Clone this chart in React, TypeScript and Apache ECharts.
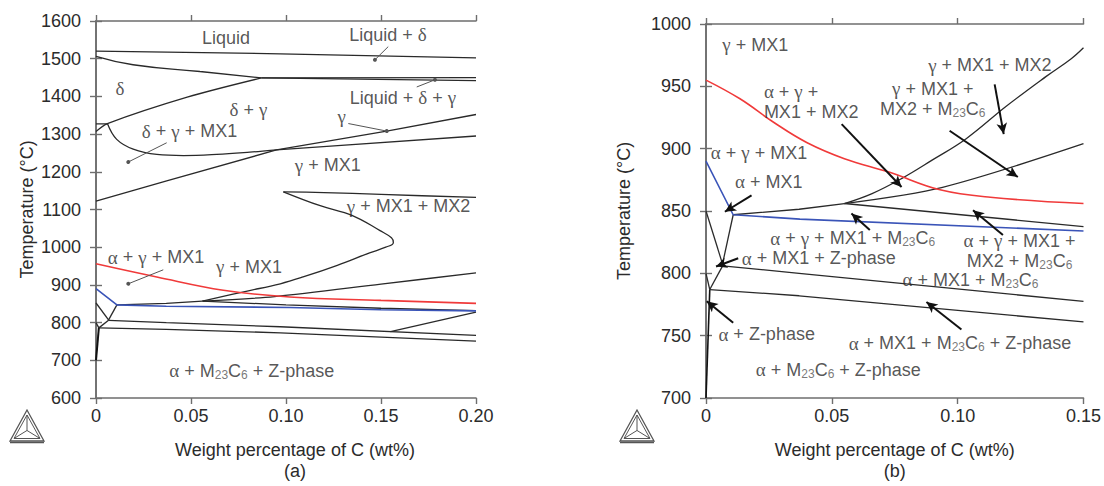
import React, { useEffect, useRef } from "react";
import * as echarts from "echarts";

// ---------- Panel (a): 0–0.20 wt% C, 600–1600 °C ----------
const aLiquidus = [[0, 1520], [0.097, 1513], [0.2, 1502]];
const aDeltaSolidus = [[0, 1506], [0.0195, 1484], [0.0547, 1466], [0.087, 1449]];
const aPeritecticUpper = [[0.087, 1449], [0.2, 1450]];
const aPeritecticLower = [[0.087, 1449], [0.2, 1442]];
const aDeltaGamma = [[0, 1307], [0.006, 1328], [0.048, 1398], [0.087, 1449]];
const aMx1Step = [[0, 1327], [0.006, 1327]];
const aDeltaGammaMx1 = [[0.006, 1328], [0.0109, 1286], [0.0196, 1260], [0.032, 1246], [0.046, 1243], [0.0635, 1246], [0.081, 1252], [0.095, 1258], [0.2, 1295]];
const aMx1Solvus = [[0, 1122], [0.0372, 1176], [0.095, 1258], [0.153, 1308], [0.2, 1352]];
const aMx2Loop = [[0.056, 857], [0.079, 883], [0.097, 903], [0.109, 921], [0.127, 952], [0.144, 985], [0.1525, 1000], [0.1565, 1012], [0.1555, 1025], [0.1495, 1044], [0.135, 1084], [0.118, 1110], [0.0986, 1147]];
const aMx2Top = [[0.0986, 1147], [0.12, 1145], [0.15, 1140], [0.2, 1132]];
const aRed = [[0, 956], [0.032, 921], [0.067, 886], [0.102, 868], [0.15, 859], [0.2, 851]];
const aBlue = [[0, 890], [0.011, 847], [0.037, 843.5], [0.102, 840], [0.15, 834], [0.2, 831]];
const aCornerA = [[0, 852], [0.0068, 806]];
const aCornerB = [[0.011, 847], [0.0065, 806]];
const aCornerC = [[0, 800], [0.0015, 786]];
const aCornerD = [[0.0066, 806], [0.0015, 786]];
const aAlphaZ = [[0, 700], [0.0015, 786]];
const aMx1Line = [[0.011, 847], [0.037, 851], [0.056, 857]];
const aM23Upper = [[0.056, 857], [0.094, 869], [0.15, 902], [0.2, 932]];
const aM23Lower = [[0.056, 857], [0.1, 847], [0.15, 838], [0.2, 832]];
const aZUpper = [[0.0066, 806], [0.037, 800], [0.097, 789], [0.2, 766]];
const aZLower = [[0.0015, 786], [0.037, 782], [0.097, 773], [0.2, 751]];
const aShort = [[0.155, 776], [0.2, 828]];

const aLabels = [
  { t: "Liquid", x: 0.0684, y: 1555 },
  { t: "Liquid + {g|δ}", x: 0.1537, y: 1563 },
  { t: "Liquid + {g|δ} + {g|γ}", x: 0.1615, y: 1396 },
  { t: "{g|γ}", x: 0.1293, y: 1348 },
  { t: "{g|δ}", x: 0.0126, y: 1422 },
  { t: "{g|δ} + {g|γ}", x: 0.0802, y: 1365 },
  { t: "{g|δ} + {g|γ} + MX1", x: 0.0492, y: 1308 },
  { t: "{g|γ} + MX1", x: 0.122, y: 1217 },
  { t: "{g|γ} + MX1 + MX2", x: 0.1645, y: 1108 },
  { t: "{g|α} + {g|γ} + MX1", x: 0.0316, y: 974 },
  { t: "{g|γ} + MX1", x: 0.0805, y: 948 },
  { t: "{g|α} + M{s|23}C{s|6} + Z-phase", x: 0.082, y: 672 },
];
const aArrows = [
  [[0.1538, 1532], [0.1468, 1497]],
  [[0.1688, 1425], [0.1784, 1444]],
  [[0.1328, 1328], [0.153, 1308]],
  [[0.0372, 1277], [0.017, 1226]],
  [[0.0354, 940], [0.017, 903]],
];

// ---------- Panel (b): 0–0.15 wt% C, 700–1000 °C ----------
const bRed = [[0, 955], [0.0135, 940], [0.027, 921], [0.04, 905], [0.055, 892], [0.073, 881], [0.093, 867], [0.113, 861], [0.15, 856]];
const bBlue = [[0, 890], [0.0108, 847], [0.0373, 843.5], [0.15, 834]];
const bCornerA = [[0, 850], [0.0068, 806]];
const bCornerB = [[0.0108, 847], [0.0064, 806]];
const bCornerC = [[0, 800], [0.0015, 787]];
const bCornerD = [[0.0066, 806], [0.0015, 787]];
const bAlphaZ = [[0, 700], [0.0015, 787]];
const bMx1Line = [[0.0108, 847], [0.037, 851.4], [0.055, 856]];
const bMx2Curve = [[0.055, 856], [0.066, 864], [0.0777, 876], [0.09, 891], [0.1034, 908], [0.1193, 934], [0.1352, 958], [0.145, 972], [0.15, 981]];
const bM23Upper = [[0.055, 856], [0.094, 869], [0.15, 904]];
const bM23Lower = [[0.055, 856], [0.15, 837.5]];
const bZUpper = [[0.0066, 806], [0.037, 800], [0.15, 777.5]];
const bZLower = [[0.0015, 787], [0.037, 782], [0.15, 761]];

const bLabels = [
  { t: "{g|γ} + MX1", x: 0.0196, y: 983.5 },
  { t: "{g|α} + {g|γ} +\nMX1 + MX2", x: 0.023, y: 937.6, align: "left" },
  { t: "{g|γ} + MX1 + MX2", x: 0.1128, y: 967 },
  { t: "{g|γ} + MX1 +\nMX2 + M{s|23}C{s|6}", x: 0.0901, y: 940 },
  { t: "{g|α} + {g|γ} + MX1", x: 0.0019, y: 896.6, align: "left" },
  { t: "{g|α} + MX1", x: 0.0249, y: 873.3 },
  { t: "{g|α} + {g|γ} + MX1 + M{s|23}C{s|6}", x: 0.0583, y: 828.3 },
  { t: "{g|α} + MX1 + Z-phase", x: 0.0448, y: 812 },
  { t: "{g|α} + {g|γ} + MX1 +\nMX2 + M{s|23}C{s|6}", x: 0.1246, y: 818.3 },
  { t: "{g|α} + MX1 + M{s|23}C{s|6}", x: 0.1051, y: 795 },
  { t: "{g|α} + Z-phase", x: 0.0241, y: 751 },
  { t: "{g|α} + MX1 + M{s|23}C{s|6} + Z-phase", x: 0.1009, y: 744 },
  { t: "{g|α} + M{s|23}C{s|6} + Z-phase", x: 0.0526, y: 722.5 },
];
const bArrows = [
  [[0.0539, 919.7], [0.0777, 869.3]],
  [[0.1147, 951.6], [0.1183, 911.7]],
  [[0.0968, 914.4], [0.1239, 877.3]],
  [[0.0181, 862.6], [0.0075, 849.4]],
  [[0.0128, 812.1], [0.004, 805.5]],
  [[0.0651, 834.7], [0.0578, 848]],
  [[0.118, 830.7], [0.1061, 850.6]],
  [[0.0108, 760.3], [0.0003, 777.6]],
  [[0.1015, 755], [0.0876, 777]],
];

const SANS = "Liberation Sans, Arial, sans-serif";
const SERIF = "Liberation Serif, Times New Roman, serif";
const TXT = "#2b2b2b";
const AX = "#6e6e6e";
const BLACK = "#2a2a2a";
const RED = "#f03a3a";
const BLUE = "#3a54b8";

const rich = {
  g: { fontFamily: SERIF, fontSize: 19, color: TXT, lineHeight: 18 },
  s: { fontFamily: SANS, fontSize: 12, color: "#555", verticalAlign: "bottom", lineHeight: 6 },
};

function xFmt(v: number) {
  return v === 0 ? "0" : v.toFixed(2);
}
function yFmt(v: number) {
  return String(Math.round(v));
}

function axisPair(grid: number, min: number, max: number, interval: number, isX: boolean, name: string, nameGap: number, extra: any) {
  const common = {
    gridIndex: grid,
    type: "value",
    min,
    max,
    interval,
    splitLine: { show: false },
    axisLine: { show: true, lineStyle: { color: AX, width: 1.6 } },
    axisTick: { show: true, length: 6, lineStyle: { color: AX, width: 1.4 } },
  };
  const main = {
    ...common,
    position: isX ? "bottom" : "left",
    axisLabel: {
      color: TXT,
      fontFamily: SANS,
      fontSize: 18,
      margin: isX ? 9 : 15,
      formatter: isX ? xFmt : yFmt,
    },
    name,
    nameLocation: "middle",
    nameGap,
    nameRotate: isX ? 0 : 90,
    nameTextStyle: { color: TXT, fontFamily: SANS, fontSize: 18, lineHeight: 21, ...extra },
  };
  const mirror = { ...common, position: isX ? "top" : "right", axisLabel: { show: false } };
  return [main, mirror];
}

function ln(data: number[][], xi: number, yi: number, color = BLACK, width = 1.3, smooth: any = false) {
  return {
    type: "line",
    data,
    xAxisIndex: xi,
    yAxisIndex: yi,
    symbol: "none",
    smooth,
    lineStyle: { color, width },
    silent: true,
    z: 3,
  };
}

function labelSeries(labels: any[], xi: number, yi: number) {
  return {
    type: "scatter",
    xAxisIndex: xi,
    yAxisIndex: yi,
    symbolSize: 0,
    silent: true,
    z: 10,
    data: labels.map((l) => ({
      value: [l.x, l.y],
      label: { formatter: l.t, align: l.align || "center" },
    })),
    label: {
      show: true,
      position: "inside",
      color: TXT,
      fontFamily: SANS,
      fontSize: 18,
      lineHeight: 20,
      rich,
    },
  };
}

function arrowSeries(arrows: number[][][], xi: number, yi: number, heavy: boolean) {
  return {
    type: "line",
    data: [],
    xAxisIndex: xi,
    yAxisIndex: yi,
    silent: true,
    markLine: {
      silent: true,
      symbol: heavy ? ["none", "arrow"] : ["none", "circle"],
      symbolSize: heavy ? [8, 11] : 4,
      label: { show: false },
      lineStyle: { type: "solid", color: heavy ? "#111" : "#555", width: heavy ? 2 : 1 },
      data: arrows.map((a) => [{ coord: a[0] }, { coord: a[1] }]),
    },
  };
}

function logo(x: number, y: number) {
  const s = 34;
  const h = 31;
  const A = [x, y + h], B = [x + s, y + h], C = [x + s / 2, y];
  const cx = x + s / 2, cy = y + h * 0.66;
  const st = { stroke: "#555", lineWidth: 1.3, fill: "none" };
  return {
    type: "group",
    children: [
      { type: "polygon", shape: { points: [A, B, C] }, style: st },
      { type: "polygon", shape: { points: [[x + 4, y + h - 2.5], [x + s - 4, y + h - 2.5], [x + s / 2, y + 5]] }, style: { ...st, lineWidth: 1 } },
      { type: "polyline", shape: { points: [[x + 4, y + h - 2.5], [cx, cy], [x + s - 4, y + h - 2.5]] }, style: { ...st, lineWidth: 1 } },
      { type: "line", shape: { x1: cx, y1: cy, x2: cx, y2: y + 5 }, style: { ...st, lineWidth: 1 } },
      { type: "line", shape: { x1: x, y1: y + h + 1.5, x2: x + s, y2: y + h + 1.5 }, style: { ...st, lineWidth: 1.5 } },
    ],
  };
}

export default function App() {
  const ref = useRef<HTMLDivElement>(null);
  useEffect(() => {
    if (!ref.current) return;
    const chart = echarts.init(ref.current, null, { renderer: "svg" });
    const [xa, xa2] = axisPair(0, 0, 0.2, 0.05, true, "Weight percentage of C (wt%)\n(a)", 41, { padding: [0, 0, 0, 18] });
    const [ya, ya2] = axisPair(0, 600, 1600, 100, false, "Temperature (°C)", 57, {});
    const [xb, xb2] = axisPair(1, 0, 0.15, 0.05, true, "Weight percentage of C (wt%)\n(b)", 41, {});
    const [yb, yb2] = axisPair(1, 700, 1000, 50, false, "Temperature (°C)", 72, {});
    chart.setOption({
      animation: false,
      backgroundColor: "#ffffff",
      grid: [
        { left: 96, top: 21, width: 380, height: 379 },
        { left: 706, top: 24, width: 378, height: 377 },
      ],
      xAxis: [xa, xa2, xb, xb2],
      yAxis: [ya, ya2, yb, yb2],
      graphic: [logo(10, 410), logo(620, 410)],
      series: [
        ln(aLiquidus, 0, 0, BLACK, 1.3, true),
        ln(aDeltaSolidus, 0, 0, BLACK, 1.3, true),
        ln(aPeritecticUpper, 0, 0),
        ln(aPeritecticLower, 0, 0),
        ln(aDeltaGamma, 0, 0, BLACK, 1.3, 0.3),
        ln(aMx1Step, 0, 0),
        ln(aDeltaGammaMx1, 0, 0, BLACK, 1.3, 0.4),
        ln(aMx1Solvus, 0, 0),
        ln(aMx2Loop, 0, 0, BLACK, 1.3, 0.4),
        ln(aMx2Top, 0, 0, BLACK, 1.3, 0.3),
        ln(aCornerA, 0, 0),
        ln(aCornerB, 0, 0),
        ln(aCornerC, 0, 0),
        ln(aCornerD, 0, 0),
        ln(aAlphaZ, 0, 0, "#111", 2),
        ln(aMx1Line, 0, 0),
        ln(aM23Upper, 0, 0, BLACK, 1.3, 0.3),
        ln(aM23Lower, 0, 0),
        ln(aZUpper, 0, 0),
        ln(aZLower, 0, 0),
        ln(aShort, 0, 0),
        ln(aRed, 0, 0, RED, 1.6, 0.4),
        ln(aBlue, 0, 0, BLUE, 1.6),
        arrowSeries(aArrows, 0, 0, false),
        labelSeries(aLabels, 0, 0),

        ln(bCornerA, 2, 2),
        ln(bCornerB, 2, 2),
        ln(bCornerC, 2, 2),
        ln(bCornerD, 2, 2),
        ln(bAlphaZ, 2, 2, "#111", 1.6),
        ln(bMx1Line, 2, 2),
        ln(bMx2Curve, 2, 2, BLACK, 1.3, 0.4),
        ln(bM23Upper, 2, 2, BLACK, 1.3, 0.3),
        ln(bM23Lower, 2, 2),
        ln(bZUpper, 2, 2),
        ln(bZLower, 2, 2),
        ln(bRed, 2, 2, RED, 1.6, 0.4),
        ln(bBlue, 2, 2, BLUE, 1.6),
        arrowSeries(bArrows, 2, 2, true),
        labelSeries(bLabels, 2, 2),
      ],
    });
    return () => chart.dispose();
  }, []);
  return <div ref={ref} style={{ position: "fixed", left: 0, top: 0, width: 1104, height: 486, background: "#fff" }} />;
}
